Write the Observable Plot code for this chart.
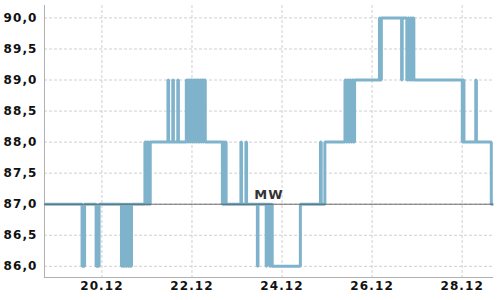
<!DOCTYPE html>
<html>
<head>
<meta charset="utf-8">
<script src="https://cdn.jsdelivr.net/npm/d3@7"></script>
<script src="https://cdn.jsdelivr.net/npm/@observablehq/plot@0.6"></script>
<style>
  html, body { margin: 0; padding: 0; background: #fff; }
  #chart svg text { letter-spacing: 1.1px; }
</style>
</head>
<body>
<div id="chart"></div>
<script>
// Data (UTC timestamps, step-after values)
const times = [
  "2023-12-18T17:24Z","2023-12-19T13:25Z","2023-12-19T14:46Z","2023-12-19T20:54Z","2023-12-19T22:30Z",
  "2023-12-20T10:25Z","2023-12-20T11:01Z","2023-12-20T11:36Z","2023-12-20T12:12Z","2023-12-20T12:48Z",
  "2023-12-20T13:23Z","2023-12-20T13:59Z","2023-12-20T14:35Z","2023-12-20T15:10Z","2023-12-20T15:46Z",
  "2023-12-20T22:55Z","2023-12-20T23:38Z","2023-12-21T00:20Z","2023-12-21T01:03Z","2023-12-21T01:45Z",
  "2023-12-21T11:12Z","2023-12-21T11:32Z","2023-12-21T13:46Z","2023-12-21T14:06Z","2023-12-21T16:26Z",
  "2023-12-21T16:46Z",
  "2023-12-21T20:59Z","2023-12-21T21:35Z","2023-12-21T22:10Z","2023-12-21T22:46Z","2023-12-21T23:22Z",
  "2023-12-21T23:57Z","2023-12-22T00:33Z","2023-12-22T01:09Z","2023-12-22T01:44Z","2023-12-22T02:20Z",
  "2023-12-22T02:55Z","2023-12-22T03:31Z","2023-12-22T04:07Z","2023-12-22T04:42Z","2023-12-22T05:18Z",
  "2023-12-22T05:54Z","2023-12-22T06:29Z","2023-12-22T07:05Z",
  "2023-12-22T16:13Z","2023-12-22T16:42Z","2023-12-22T17:12Z","2023-12-22T17:41Z","2023-12-22T18:11Z",
  "2023-12-23T02:05Z","2023-12-23T02:25Z","2023-12-23T04:45Z","2023-12-23T05:05Z","2023-12-23T10:51Z",
  "2023-12-23T11:11Z","2023-12-23T15:33Z","2023-12-23T15:53Z","2023-12-23T17:29Z","2023-12-23T18:07Z",
  "2023-12-23T18:46Z","2023-12-24T09:46Z","2023-12-24T20:28Z","2023-12-24T20:53Z","2023-12-24T22:49Z",
  "2023-12-25T09:33Z","2023-12-25T10:11Z","2023-12-25T10:50Z","2023-12-25T11:28Z","2023-12-25T12:07Z",
  "2023-12-25T12:45Z","2023-12-25T13:23Z","2023-12-25T14:02Z","2023-12-25T14:40Z",
  "2023-12-26T03:55Z","2023-12-26T04:18Z","2023-12-26T04:56Z","2023-12-26T15:43Z","2023-12-26T16:03Z",
  "2023-12-26T18:31Z","2023-12-26T19:08Z","2023-12-26T19:46Z","2023-12-26T20:23Z","2023-12-26T21:00Z",
  "2023-12-26T21:38Z","2023-12-26T22:15Z",
  "2023-12-28T00:03Z","2023-12-28T00:28Z","2023-12-28T00:57Z","2023-12-28T07:15Z","2023-12-28T07:35Z",
  "2023-12-28T15:32Z","2023-12-28T16:42Z"
];
const values = [
  87,86,87,86,87,
  86,87,86,87,86,
  87,86,87,86,87,
  88,87,88,87,88,
  89,88,89,88,89,
  88,
  89,88,89,88,89,
  88,89,88,89,88,
  89,88,89,88,89,
  88,89,88,
  87,88,87,88,87,
  88,87,88,87,86,
  87,86,87,86,87,
  86,87,88,87,88,
  89,88,89,88,89,
  88,89,88,89,
  90,89,90,89,90,
  89,90,89,90,89,
  90,89,
  88,89,88,89,88,
  87,87
];
const meanValue = 87.0;
const meanLabel = "MW";
const xTickLabels = ["2023-12-20","2023-12-22","2023-12-24","2023-12-26","2023-12-28"];
const yTickValues = [86, 86.5, 87, 87.5, 88, 88.5, 89, 89.5, 90];
const yDomain = [85.82, 90.2];

const data = times.map((t, i) => ({date: new Date(t), value: values[i]}));
const xDomain = d3.extent(data, d => d.date);
const xTicks = xTickLabels.map(s => new Date(s + "T00:00Z"));
const xMid = new Date((+xDomain[0] + +xDomain[1]) / 2);
const fmtY = d => d.toFixed(1).replace(".", ",");

const chart = Plot.plot({
  width: 500,
  height: 300,
  marginTop: 5,
  marginRight: 7,
  marginBottom: 23,
  marginLeft: 44,
  style: {fontFamily: "DejaVu Sans", fontSize: "12px", fontWeight: "bold", color: "#111", background: "#fff", overflow: "visible"},
  x: {type: "utc", domain: xDomain},
  y: {domain: yDomain},
  marks: [
    Plot.gridY(yTickValues, {stroke: "#d0d0d0", strokeOpacity: 1, strokeDasharray: "3,2"}),
    Plot.gridX(xTicks, {stroke: "#d0d0d0", strokeOpacity: 1, strokeDasharray: "3,2"}),
    Plot.ruleX([xDomain[0]], {stroke: "#b0b0b0"}),
    Plot.ruleY([yDomain[0]], {stroke: "#b0b0b0"}),
    Plot.line(data, {x: "date", y: "value", curve: "step-after", stroke: "#7fb3cc", strokeWidth: 3, strokeLinejoin: "miter", strokeLinecap: "butt"}),
    Plot.ruleY([meanValue], {stroke: "#555", strokeWidth: 1, strokeOpacity: 0.85}),
    Plot.text([meanValue], {x: () => xMid, y: d => d, text: () => meanLabel, dy: -9, fontSize: 13, fontWeight: "bold", fill: "#333"}),
    Plot.axisX(xTicks, {tickSize: 0, tickPadding: 4, tickFormat: d3.utcFormat("%d.%m"), label: null}),
    Plot.axisY(yTickValues, {tickSize: 0, tickPadding: 7, tickFormat: fmtY, label: null})
  ]
});
document.getElementById("chart").appendChild(chart);
</script>
</body>
</html>
